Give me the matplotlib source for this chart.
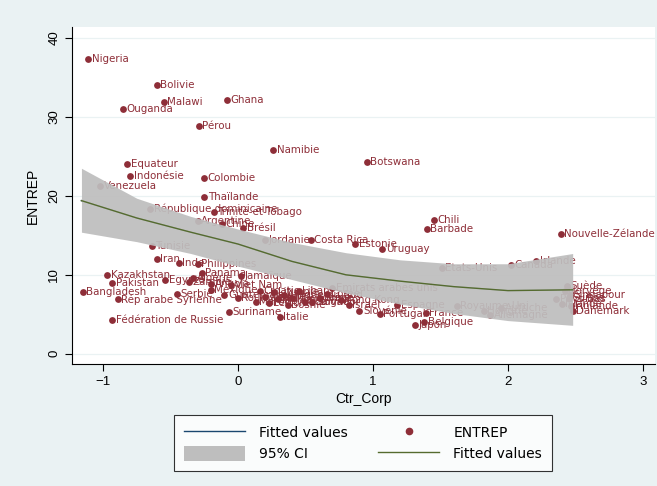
import matplotlib.pyplot as plt
from matplotlib.lines import Line2D
from matplotlib.patches import Patch

plt.rcParams['font.family'] = ['Liberation Sans', 'DejaVu Sans']

# country labels, Ctr_Corp and ENTREP values
pays = ["Nigeria", "Bolivie", "Malawi", "Ouganda", "Ghana", "Pérou", "Namibie",
        "Botswana", "Equateur", "Indonésie", "Colombie", "Venezuela", "Thaïlande",
        "République dominicaine", "Trinité-et-Tobago", "Argentine", "Chine", "Brésil",
        "Jordanie", "Costa Rica", "Estonie", "Uruguay", "Chili", "Barbade",
        "Nouvelle-Zélande", "Etats-Unis", "Canada", "Irlande", "Tunisie", "Iran",
        "Inde", "Philippines", "Kazakhstan", "Pakistan", "Bangladesh",
        "Rép arabe Syrienne", "Fédération de Russie", "Egypte", "Serbie", "Panama",
        "Algérie", "Mexique", "Guatemala", "Viet Nam", "Roumanie", "Maroc",
        "Croatie", "Turquie", "Lettonie", "Lituanie", "Malaisie", "Afrique du Sud",
        "Bosnie", "Macédoine", "Jamaïque", "Liban", "Grèce", "Italie", "Suriname",
        "Pologne", "Hong Kong", "Corée", "Israël", "Espagne", "Slovénie", "Portugal",
        "France", "Japon", "Belgique", "Hongrie", "Allemagne", "Royaume-Uni",
        "Autriche", "Singapour", "Suède", "Suisse", "Islande", "Finlande",
        "Danemark", "Pays-Bas", "Norvège", "Emirats arabes unis", "Angola",
        "Zambie", "Salvador"]
ctr_corp = [-1.11, -0.60, -0.55, -0.85, -0.08, -0.29, 0.26,
            0.955, -0.82, -0.80, -0.25, -1.02, -0.25,
            -0.65, -0.18, -0.30, -0.12, 0.04,
            0.20, 0.54, 0.87, 1.07, 1.45, 1.40,
            2.39, 1.51, 2.02, 2.21, -0.64, -0.60,
            -0.44, -0.30, -0.97, -0.93, -1.15,
            -0.89, -0.93, -0.54, -0.45, -0.27,
            -0.33, -0.20, -0.10, -0.05, 0.00, 0.13,
            0.16, 0.20, 0.23, 0.27, 0.30, 0.34,
            0.37, 0.40, 0.02, 0.45, 0.61, 0.31, -0.07,
            0.50, 0.76, 0.66, 0.82, 1.18, 0.90, 1.05,
            1.39, 1.31, 1.38, 1.82, 1.87, 1.62,
            1.95, 2.46, 2.44, 2.45, 2.40, 2.47,
            2.48, 2.36, 2.42, 0.70, -0.20,
            -0.36, 0.55]
entrep = [37.4, 34.1, 31.9, 31.0, 32.1, 28.8, 25.8,
          24.3, 24.0, 22.5, 22.3, 21.2, 19.8,
          18.4, 18.0, 16.8, 16.4, 15.9,
          14.4, 14.4, 13.9, 13.3, 16.9, 15.8,
          15.2, 10.9, 11.2, 11.7, 13.7, 12.0,
          11.5, 11.4, 10.0, 8.9, 7.8,
          6.9, 4.3, 9.4, 7.6, 10.2,
          9.6, 8.1, 7.4, 8.7, 7.0, 6.6,
          8.0, 7.2, 6.4, 7.8, 6.9, 7.5,
          6.2, 7.0, 9.9, 8.0, 7.1, 4.7, 5.3,
          6.6, 6.8, 7.6, 6.2, 6.2, 5.4, 5.0,
          5.2, 3.7, 4.0, 5.4, 4.9, 6.0,
          5.8, 7.5, 8.6, 7.0, 6.3, 6.0,
          5.4, 6.9, 8.0, 8.3, 8.8,
          9.1, 6.5]

# fitted values and 95% CI
fit_x = [-1.16, -0.75, -0.35, 0.0, 0.4, 0.8, 1.2, 1.6, 2.0, 2.48]
fit_y = [19.4, 17.2, 15.4, 13.9, 11.7, 10.0, 9.2, 8.5, 8.0, 8.1]
ci_hi = [23.5, 19.7, 17.4, 15.8, 14.1, 12.8, 11.9, 11.4, 11.4, 12.7]
ci_lo = [15.4, 14.2, 12.7, 11.1, 9.4, 7.7, 6.3, 5.1, 4.2, 3.6]

bg = '#EAF2F3'
maroon = '#8E2E38'
navy = '#1A476F'
olive = '#556B2F'
band = '#BEBEBE'

fig = plt.figure(figsize=(6.57, 4.86), dpi=100, facecolor=bg)
ax = fig.add_axes([72 / 657, 1 - 364 / 486, 583 / 657, 337 / 486])
ax.set_facecolor('white')

ax.plot(fit_x, fit_y, color=navy, lw=1, zorder=1)
ax.scatter(ctr_corp, entrep, s=24, color=maroon, zorder=2, linewidths=0)
for name, x, y in zip(pays, ctr_corp, entrep):
    ax.annotate(name, (x, y), xytext=(2.5, 0), textcoords='offset points',
                va='center', ha='left', fontsize=7.4, color=maroon,
                family='DejaVu Sans', zorder=2, annotation_clip=False,
                clip_on=True)
ax.fill_between(fit_x, ci_lo, ci_hi, color=band, alpha=0.93, lw=0, zorder=3)
ax.plot(fit_x, fit_y, color=olive, lw=1, zorder=4)

ax.set_xlim(-1.23, 3.09)
ax.set_ylim(-1.3, 41.4)
ax.set_xticks([-1, 0, 1, 2, 3])
ax.set_yticks([0, 10, 20, 30, 40])
ax.tick_params(axis='both', labelsize=9.5, length=5, width=0.8, color='black')
for lab in ax.get_yticklabels():
    lab.set_rotation(90)
    lab.set_va('center')
ax.grid(axis='y', color=bg, lw=0.9)
ax.set_axisbelow(True)
for side in ['top', 'right']:
    ax.spines[side].set_visible(False)
ax.spines['left'].set_linewidth(0.8)
ax.spines['bottom'].set_linewidth(0.8)
ax.set_xlabel("Ctr_Corp", fontsize=10, labelpad=3)
ax.set_ylabel("ENTREP", fontsize=10, labelpad=6)

handles = [Line2D([], [], color=navy, lw=1),
           Patch(facecolor=band, edgecolor='none'),
           Line2D([], [], color=maroon, marker='o', ls='none', markersize=4.5),
           Line2D([], [], color=olive, lw=1)]
labels = ["Fitted values", "95% CI", "ENTREP", "Fitted values"]
leg = fig.legend(handles, labels, ncol=2, loc='center',
                 bbox_to_anchor=(363 / 657, 1 - 443 / 486),
                 prop={'family': 'DejaVu Sans', 'size': 10},
                 frameon=True, fancybox=False, edgecolor='black',
                 handlelength=4.4, handleheight=1.3, handletextpad=1.0,
                 columnspacing=2.2, labelspacing=0.45, borderpad=0.7)
leg.get_frame().set_linewidth(0.8)

fig.savefig("out.png", dpi=100, facecolor=bg)
